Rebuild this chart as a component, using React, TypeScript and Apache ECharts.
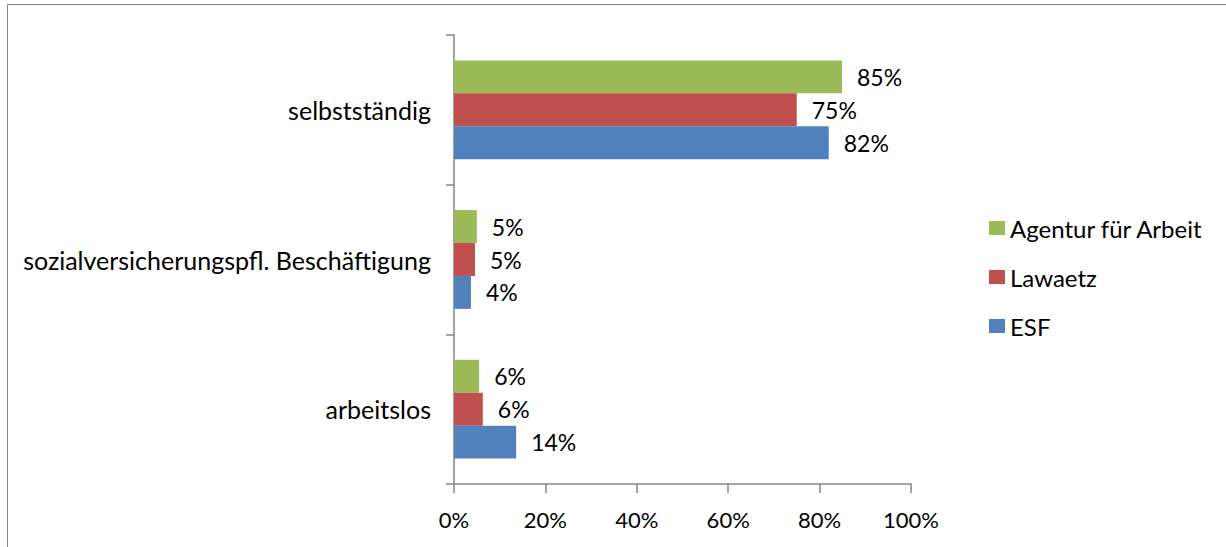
import React, { useEffect, useRef } from "react";
import * as echarts from "echarts";

const categories = ["arbeitslos", "sozialversicherungspfl. Beschäftigung", "selbstständig"];
const agentur = [5.5, 5.0, 84.9];
const lawaetz = [6.3, 4.6, 75.0];
const esf = [13.6, 3.7, 82.0];
const xTicks = [0, 20, 40, 60, 80, 100];

const FONT = "Lato";
const AXIS = "#868686";

export default function App() {
  const ref = useRef<HTMLDivElement>(null);
  useEffect(() => {
    if (!ref.current) return;
    const chart = echarts.init(ref.current, null, { renderer: "svg" });
    const label = {
      show: true,
      position: "right",
      distance: 15,
      color: "#000",
      fontFamily: FONT,
      fontSize: 23,
      formatter: (p: any) => Math.round(p.value) + "%",
    };
    const mk = (name: string, data: number[], color: string) => ({
      name,
      type: "bar",
      data,
      itemStyle: { color },
      label,
      barGap: "0%",
      barCategoryGap: "34%",
    });
    chart.setOption({
      animation: false,
      textStyle: { fontFamily: FONT },
      graphic: [
        {
          type: "rect",
          shape: { x: 7.5, y: 4.5, width: 1400, height: 700 },
          style: { fill: "none", stroke: AXIS, lineWidth: 1 },
          silent: true,
        },
      ],
      grid: { left: 454, right: 315, top: 35, bottom: 63 },
      legend: {
        orient: "vertical",
        left: 984,
        top: 211,
        itemWidth: 16,
        itemHeight: 14,
        itemGap: 25,
        icon: "rect",
        data: ["Agentur für Arbeit", "Lawaetz", "ESF"],
        textStyle: { fontFamily: FONT, fontSize: 24, color: "#000" },
      },
      xAxis: {
        type: "value",
        min: xTicks[0],
        max: xTicks[xTicks.length - 1],
        interval: 20,
        splitLine: { show: false },
        axisLine: { show: true, lineStyle: { color: AXIS, width: 1.5 } },
        axisTick: { show: true, length: 9, lineStyle: { color: AXIS, width: 1.5 } },
        axisLabel: {
          formatter: "{value}%",
          color: "#000",
          fontFamily: FONT,
          fontSize: 22,
          margin: 24,
        },
      },
      yAxis: {
        type: "category",
        data: categories,
        axisLine: { show: true, lineStyle: { color: AXIS, width: 1.5 } },
        axisTick: { show: true, length: 8, lineStyle: { color: AXIS, width: 1.5 } },
        axisLabel: { color: "#000", fontFamily: FONT, fontSize: 25, margin: 23 },
      },
      series: [
        mk("Agentur für Arbeit", agentur, "#9BBB59"),
        mk("Lawaetz", lawaetz, "#C0504D"),
        mk("ESF", esf, "#4F81BD"),
      ],
    });
    return () => chart.dispose();
  }, []);
  return (
    <div
      ref={ref}
      style={{ position: "fixed", left: 0, top: 0, width: 1226, height: 547, background: "#fff" }}
    />
  );
}
